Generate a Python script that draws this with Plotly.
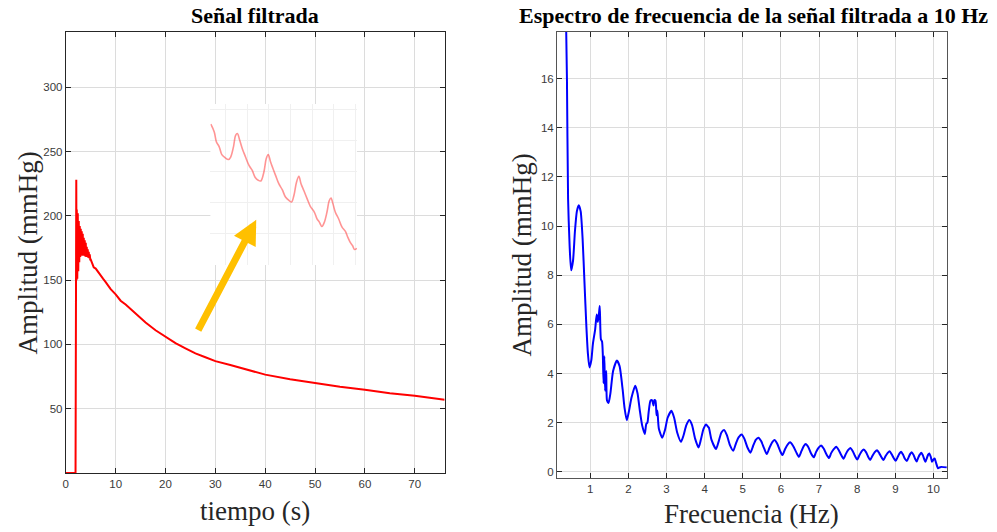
import plotly.graph_objects as go

# ---------------- Left: filtered signal ----------------
sig_t = [0, 1.95, 2.1, 2.15,
         2.2, 2.3, 2.4, 2.5, 2.6, 2.7, 2.8, 2.9, 3.0, 3.1, 3.2, 3.3, 3.4, 3.5,
         3.6, 3.7, 3.8, 3.9, 4.0, 4.1, 4.2, 4.3, 4.4, 4.5, 4.6, 4.7, 4.8, 4.9,
         5.0, 5.3, 5.6, 6.0, 6.5, 7.0, 7.5, 8.0, 8.5, 9.0, 10, 11, 12, 14, 16,
         18, 20, 22, 24, 26, 28, 30, 33, 36, 40, 45, 50, 55, 60, 65, 70, 76]
sig_amp = [0, 0, 228, 150,
           205, 151, 202, 157, 196, 164, 192, 168, 190, 169, 188, 169, 186, 169,
           183, 169, 181, 168.5, 179, 168, 176, 168, 174, 167.5, 172, 167, 170, 166,
           166, 163, 160, 159, 156, 153, 151, 148.5, 146, 143, 139, 134, 131, 124, 117,
           111, 106, 101, 97, 93, 90, 87, 84, 81, 76.5, 73, 70, 67, 64.7, 62, 60, 57]

# zoomed detail (inset), arbitrary units
inset_x = [0.31, 0.47, 0.57, 0.70, 0.82, 0.97, 1.13, 1.23, 1.36, 1.46, 1.54, 1.65,
           1.77, 1.92, 2.08, 2.23, 2.36, 2.51, 2.63, 2.77, 2.88, 2.97, 3.08, 3.19,
           3.31, 3.46, 3.62, 3.77, 3.93, 4.05, 4.16, 4.28, 4.39, 4.49, 4.62, 4.77,
           4.92, 5.11, 5.23, 5.34, 5.46, 5.57, 5.69, 5.80, 5.88, 5.97, 6.08, 6.23,
           6.39, 6.54, 6.66, 6.77, 6.88, 6.97, 7.08]
inset_y = [4.54, 4.29, 3.97, 3.81, 3.56, 3.46, 3.40, 3.48, 3.81, 4.18, 4.24, 4.02,
           3.75, 3.48, 3.21, 3.05, 2.83, 2.73, 2.71, 3.00, 3.43, 3.56, 3.32, 3.11,
           2.89, 2.62, 2.43, 2.19, 2.08, 2.03, 2.24, 2.67, 2.86, 2.62, 2.40, 2.14,
           1.89, 1.70, 1.49, 1.38, 1.24, 1.38, 1.70, 2.08, 2.16, 1.97, 1.70, 1.49,
           1.22, 1.09, 0.89, 0.73, 0.62, 0.50, 0.54]

sig_xticks = [0, 10, 20, 30, 40, 50, 60, 70]
sig_yticks = [50, 100, 150, 200, 250, 300]

# ---------------- Right: spectrum ----------------
freq = [0.36, 0.39, 0.42, 0.46, 0.50, 0.55, 0.60, 0.65, 0.70, 0.75, 0.80, 0.85,
        0.90, 0.94, 0.98, 1.03, 1.07, 1.13, 1.17, 1.20, 1.23, 1.25, 1.28, 1.31,
        1.33, 1.35, 1.37, 1.39, 1.42, 1.44, 1.48, 1.53, 1.60, 1.70, 1.77, 1.85,
        1.90, 1.96, 2.02, 2.08, 2.18, 2.24, 2.30, 2.36, 2.43, 2.47, 2.50, 2.53,
        2.58, 2.62, 2.66, 2.68, 2.71, 2.74, 2.76, 2.80, 2.89, 2.96, 3.03, 3.13,
        3.20, 3.28, 3.38, 3.45, 3.52, 3.60, 3.67, 3.75, 3.84, 3.90, 3.97, 4.04,
        4.08, 4.11, 4.18, 4.30, 4.37, 4.44, 4.51, 4.58, 4.66, 4.75, 4.82, 4.89,
        4.97, 5.04, 5.12, 5.20, 5.27, 5.34, 5.41, 5.48, 5.56, 5.63, 5.70, 5.77,
        5.83, 5.90, 5.97, 6.04, 6.11, 6.18, 6.24, 6.32, 6.40, 6.47, 6.54, 6.60,
        6.65, 6.72, 6.79, 6.86, 6.92, 6.99, 7.05, 7.12, 7.19, 7.26, 7.32, 7.39,
        7.45, 7.51, 7.58, 7.64, 7.70, 7.76, 7.82, 7.88, 7.94, 8.00, 8.06, 8.12,
        8.17, 8.23, 8.29, 8.34, 8.40, 8.46, 8.52, 8.58, 8.64, 8.69, 8.74, 8.80,
        8.85, 8.90, 8.96, 9.01, 9.06, 9.11, 9.15, 9.20, 9.25, 9.30, 9.35, 9.39,
        9.43, 9.48, 9.52, 9.56, 9.60, 9.64, 9.68, 9.72, 9.76, 9.79, 9.83, 9.86,
        9.89, 9.93, 9.96, 10.00, 10.03, 10.07, 10.12, 10.16, 10.20, 10.35]
spec_amp = [19.0, 16.0, 11.1, 9.2, 8.2, 8.6, 9.8, 10.6, 10.85, 10.6, 9.5, 7.7,
            5.9, 4.8, 4.25, 4.55, 5.2, 5.8, 6.4, 6.1, 6.45, 6.75, 5.4, 5.3,
            4.8, 3.6, 4.7, 3.3, 4.1, 2.9, 2.8, 3.2, 4.1, 4.53, 4.3, 3.35,
            2.6, 2.1, 2.5, 3.0, 3.5, 3.2, 2.5, 1.9, 1.54, 1.95, 2.0, 2.4,
            2.9, 2.92, 2.7, 2.92, 2.9, 2.3, 2.5, 1.75, 1.39, 1.7, 2.2, 2.48,
            2.2, 1.6, 1.22, 1.5, 1.9, 2.11, 1.9, 1.35, 0.99, 1.3, 1.75, 1.93,
            1.85, 1.8, 1.3, 0.93, 1.25, 1.6, 1.70, 1.5, 1.1, 0.86, 1.15, 1.4,
            1.52, 1.35, 1.0, 0.78, 1.05, 1.3, 1.39, 1.25, 0.95, 0.72, 0.98, 1.2,
            1.29, 1.15, 0.88, 0.68, 0.93, 1.12, 1.20, 1.05, 0.8, 0.61, 0.85, 1.05,
            1.13, 1.0, 0.75, 0.59, 0.8, 0.98, 1.07, 0.95, 0.72, 0.56, 0.77, 0.93,
            1.02, 0.9, 0.68, 0.53, 0.72, 0.88, 0.97, 0.85, 0.65, 0.50, 0.68, 0.84,
            0.91, 0.8, 0.6, 0.48, 0.65, 0.8, 0.88, 0.75, 0.58, 0.48, 0.63, 0.77,
            0.84, 0.72, 0.55, 0.45, 0.6, 0.75, 0.82, 0.7, 0.53, 0.44, 0.6, 0.73,
            0.80, 0.68, 0.52, 0.42, 0.58, 0.7, 0.78, 0.68, 0.5, 0.41, 0.58, 0.7,
            0.75, 0.6, 0.41, 0.5, 0.54, 0.35, 0.14, 0.18, 0.2, 0.18]

spec_xticks = [1, 2, 3, 4, 5, 6, 7, 8, 9, 10]
spec_yticks = [0, 2, 4, 6, 8, 10, 12, 14, 16]

W, H = 997, 532
TICKFONT = dict(family="Liberation Sans, Arial", size=11.5, color="#3a3a3a")
GRID = "#dcdcdc"

fig = go.Figure()
fig.add_trace(go.Scatter(x=sig_t, y=sig_amp, mode="lines",
                         line=dict(color="#ff0000", width=2),
                         xaxis="x", yaxis="y", showlegend=False))
fig.add_trace(go.Scatter(x=inset_x, y=inset_y, mode="lines",
                         line=dict(color="rgba(255,60,60,0.55)", width=1.6, shape="spline"),
                         xaxis="x3", yaxis="y3", showlegend=False))
fig.add_trace(go.Scatter(x=freq, y=spec_amp, mode="lines",
                         line=dict(color="#0000ff", width=2, shape="spline", smoothing=0.6),
                         xaxis="x2", yaxis="y2", showlegend=False))

def px_x(p):
    return p / W

def px_y(p):
    return (H - p) / H

common = dict(showline=True, mirror="ticks", ticks="inside", ticklen=5,
              showgrid=True, gridcolor=GRID, gridwidth=1, zeroline=False,
              tickfont=TICKFONT)

fig.update_layout(
    width=W, height=H,
    margin=dict(l=0, r=0, t=0, b=0),
    paper_bgcolor="white", plot_bgcolor="white",
    xaxis=dict(domain=[px_x(63), px_x(443)], range=[0, 76], tickvals=sig_xticks,
               anchor="y", linecolor="#262626", tickcolor="#262626", **common),
    yaxis=dict(domain=[px_y(473), px_y(32)], range=[0, 343], tickvals=sig_yticks,
               anchor="x", linecolor="#262626", tickcolor="#262626", **common),
    xaxis2=dict(domain=[px_x(555.7), px_x(946.7)], range=[0.13, 10.35], tickvals=spec_xticks,
                anchor="y2", linecolor="#555555", tickcolor="#262626", **common),
    yaxis2=dict(domain=[px_y(477.7), px_y(32)], range=[-0.24, 17.9], tickvals=spec_yticks,
                anchor="x2", linecolor="#555555", tickcolor="#262626", **common),
    xaxis3=dict(domain=[px_x(208), px_x(355)], range=[0.29, 7.08], tickvals=[1, 2, 3, 4, 5, 6, 7],
                anchor="y3", showticklabels=False, ticks="", showline=False,
                showgrid=True, gridcolor="#f0f0f0", zeroline=False),
    yaxis3=dict(domain=[px_y(265), px_y(104)], range=[0, 5.19], tickvals=[1, 2, 3, 4, 5],
                anchor="x3", showticklabels=False, ticks="", showline=False,
                showgrid=True, gridcolor="#f0f0f0", zeroline=False),
)

serif = "Liberation Serif, Times New Roman, serif"
ann = [
    dict(text="<b>Señal filtrada</b>", x=px_x(252.5), y=px_y(15), xref="paper", yref="paper",
         showarrow=False, xanchor="center", yanchor="middle",
         font=dict(family=serif, size=22, color="black")),
    dict(text="<b>Espectro de frecuencia de la señal filtrada a 10 Hz</b>", x=px_x(752.5), y=px_y(15),
         xref="paper", yref="paper", showarrow=False, xanchor="center", yanchor="middle",
         font=dict(family=serif, size=22, color="black")),
    dict(text="Amplitud (mmHg)", x=px_x(25), y=px_y(252.5), xref="paper", yref="paper",
         showarrow=False, textangle=-90, xanchor="center", yanchor="middle",
         font=dict(family=serif, size=27, color="#262626")),
    dict(text="Amplitud (mmHg)", x=px_x(521), y=px_y(255), xref="paper", yref="paper",
         showarrow=False, textangle=-90, xanchor="center", yanchor="middle",
         font=dict(family=serif, size=27, color="#262626")),
    dict(text="tiempo (s)", x=px_x(253), y=px_y(511), xref="paper", yref="paper",
         showarrow=False, xanchor="center", yanchor="middle",
         font=dict(family=serif, size=27, color="#262626")),
    dict(text="Frecuencia (Hz)", x=px_x(751), y=px_y(514), xref="paper", yref="paper",
         showarrow=False, xanchor="center", yanchor="middle",
         font=dict(family=serif, size=27, color="#262626")),
    dict(text="", x=38.2, y=197, ax=26.4, ay=110, xref="x", yref="y", axref="x", ayref="y",
         showarrow=True, arrowhead=2, arrowsize=0.7, arrowwidth=7, arrowcolor="#FFC000"),
]
fig.update_layout(annotations=ann)

fig.write_html("out.html", config={"displayModeBar": False},
               post_script="document.body.style.margin='0px';document.body.style.padding='0px';document.body.style.overflow='hidden';")
